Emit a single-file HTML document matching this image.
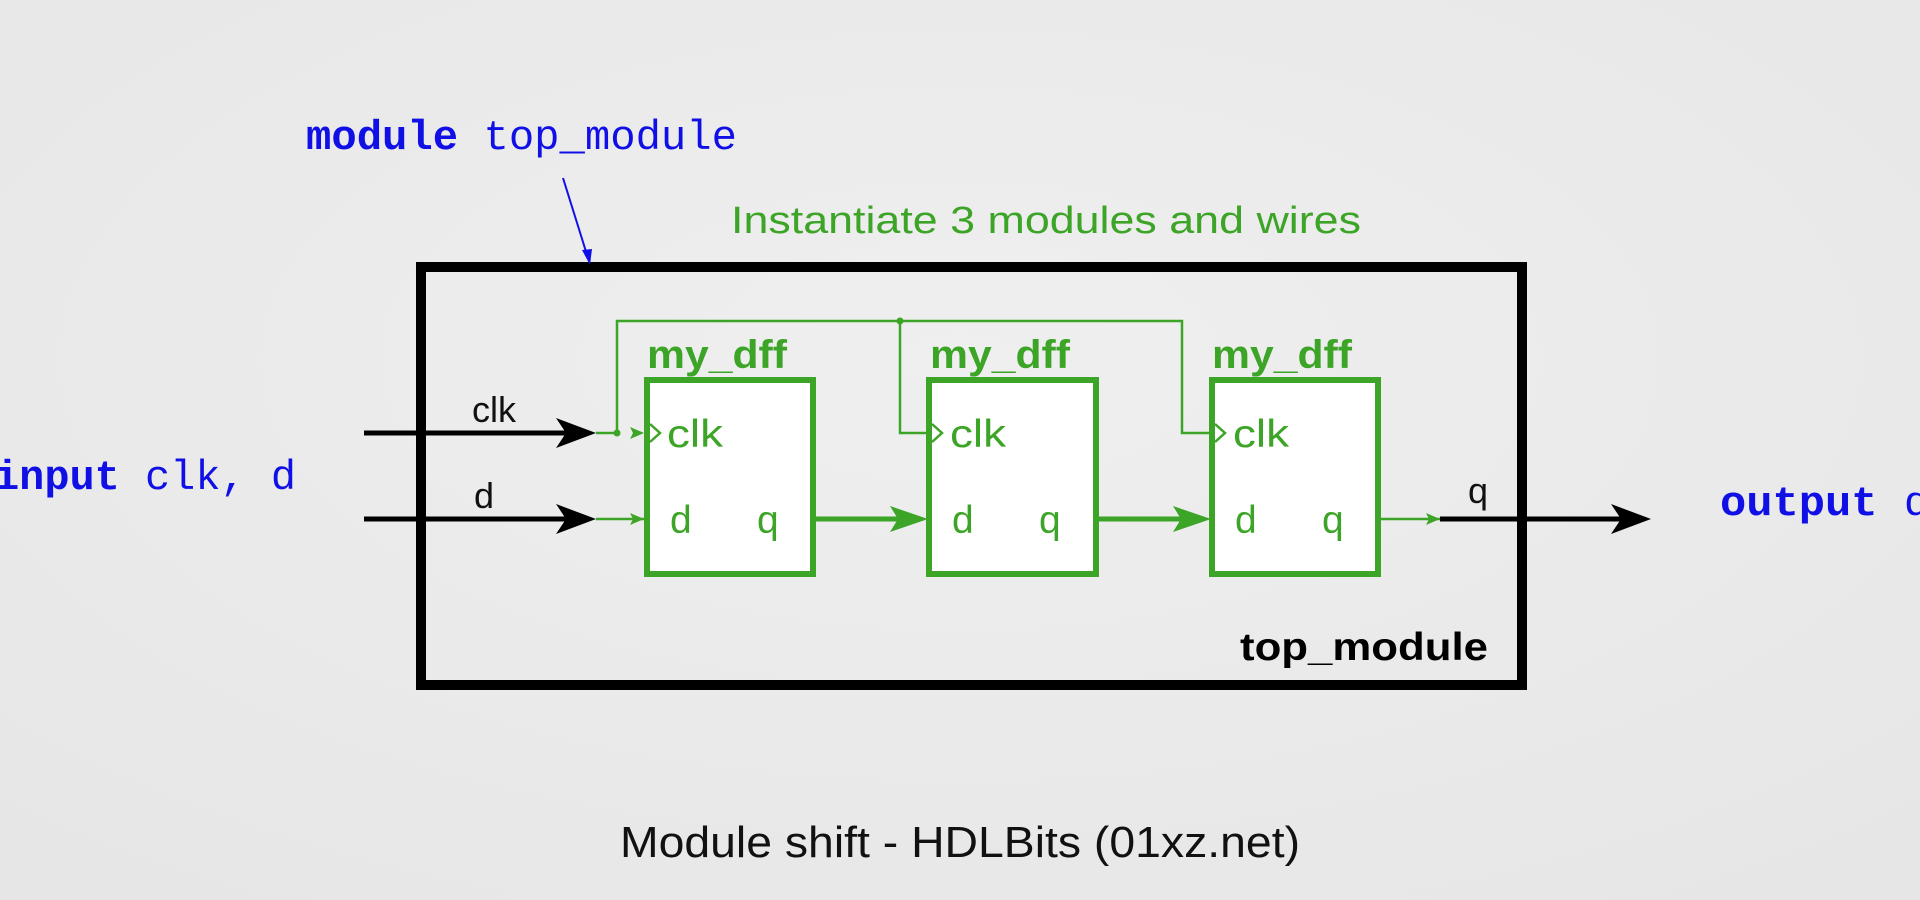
<!DOCTYPE html>
<html><head><meta charset="utf-8"><style>
html,body{margin:0;padding:0;width:1920px;height:900px;overflow:hidden;background:#ebebeb}
svg{display:block}
</style></head><body>
<svg width="1920" height="900" viewBox="0 0 1920 900" xmlns="http://www.w3.org/2000/svg">
<defs>
<radialGradient id="bg" cx="50%" cy="40%" r="75%">
<stop offset="0" stop-color="#efefef"/><stop offset="1" stop-color="#e6e6e6"/>
</radialGradient>
</defs>
<rect width="1920" height="900" fill="url(#bg)"/>
<rect x="421" y="267" width="1101" height="418" fill="none" stroke="#000" stroke-width="10"/>
<text x="306" y="149" font-family="Liberation Mono, monospace" font-size="42" fill="#1010e6" textLength="431" lengthAdjust="spacingAndGlyphs"><tspan font-weight="bold">module</tspan> top_module</text>
<line x1="563" y1="178" x2="588" y2="258" stroke="#1010e6" stroke-width="2"/>
<polygon points="590,265 582,250 592,249" fill="#1010e6"/>
<text x="731" y="233" font-family="Liberation Sans, sans-serif" font-size="38" fill="#3ca426" textLength="630" lengthAdjust="spacingAndGlyphs">Instantiate 3 modules and wires</text>
<g stroke="#3ca426" stroke-width="2.5" fill="none">
<polyline points="596,433 617,433 617,321 1182,321 1182,433 1210,433"/>
<polyline points="900,321 900,433 927,433"/>
<line x1="596" y1="519" x2="645" y2="519"/>
<line x1="1380" y1="519" x2="1440" y2="519"/>
</g>
<circle cx="900" cy="321" r="3.5" fill="#3ca426"/>
<circle cx="617" cy="433" r="3.5" fill="#3ca426"/>
<polygon points="644,433 630,427 633,433 630,439" fill="#3ca426"/>
<polygon points="644,519 630,513 633,519 630,525" fill="#3ca426"/>
<polygon points="1440,519 1426,513 1429,519 1426,525" fill="#3ca426"/>
<g fill="#fff" stroke="#3ca426" stroke-width="6">
<rect x="647" y="380" width="166" height="194"/>
<rect x="929" y="380" width="167" height="194"/>
<rect x="1212" y="380" width="166" height="194"/>
</g>
<g stroke="#3ca426" stroke-width="5">
<line x1="815" y1="519" x2="915" y2="519"/>
<line x1="1098" y1="519" x2="1198" y2="519"/>
</g>
<polygon points="928,519 890,506 898,519 890,532" fill="#3ca426"/>
<polygon points="1211,519 1173,506 1181,519 1173,532" fill="#3ca426"/>
<g font-family="Liberation Sans, sans-serif" fill="#3ca426">
<g font-size="40" font-weight="bold">
<text x="647" y="368" textLength="140" lengthAdjust="spacingAndGlyphs">my_dff</text>
<text x="930" y="368" textLength="140" lengthAdjust="spacingAndGlyphs">my_dff</text>
<text x="1212" y="368" textLength="140" lengthAdjust="spacingAndGlyphs">my_dff</text>
</g>
<g font-size="39">
<text x="667" y="447" textLength="56" lengthAdjust="spacingAndGlyphs">clk</text><text x="670" y="533">d</text><text x="757" y="533">q</text>
<text x="950" y="447" textLength="56" lengthAdjust="spacingAndGlyphs">clk</text><text x="952" y="533">d</text><text x="1039" y="533">q</text>
<text x="1233" y="447" textLength="56" lengthAdjust="spacingAndGlyphs">clk</text><text x="1235" y="533">d</text><text x="1322" y="533">q</text>
</g>
</g>
<g fill="none" stroke="#3ca426" stroke-width="2.5">
<polyline points="650,424 660,433 650,442"/>
<polyline points="932,424 942,433 932,442"/>
<polyline points="1215,424 1225,433 1215,442"/>
</g>
<g stroke="#000" stroke-width="5">
<line x1="364" y1="433" x2="580" y2="433"/>
<line x1="364" y1="519" x2="580" y2="519"/>
<line x1="1440" y1="519" x2="1635" y2="519"/>
</g>
<polygon points="596,433 556,418 566,433 556,448" fill="#000"/>
<polygon points="596,519 556,504 566,519 556,534" fill="#000"/>
<polygon points="1651,519 1611,504 1621,519 1611,534" fill="#000"/>
<g font-family="Liberation Sans, sans-serif" font-size="36" fill="#111">
<text x="472" y="422">clk</text>
<text x="474" y="508">d</text>
<text x="1468" y="503">q</text>
</g>
<text x="1240" y="660" font-family="Liberation Sans, sans-serif" font-size="39" font-weight="bold" fill="#000" textLength="248" lengthAdjust="spacingAndGlyphs">top_module</text>
<text x="-6" y="489" font-family="Liberation Mono, monospace" font-size="42" fill="#1010e6" textLength="302" lengthAdjust="spacingAndGlyphs"><tspan font-weight="bold">input</tspan> clk, d</text>
<text x="1720" y="515" font-family="Liberation Mono, monospace" font-size="42" fill="#1010e6" textLength="210" lengthAdjust="spacingAndGlyphs"><tspan font-weight="bold">output</tspan> q</text>
<text x="620" y="857" font-family="Liberation Sans, sans-serif" font-size="44" fill="#111" textLength="680" lengthAdjust="spacingAndGlyphs">Module shift - HDLBits (01xz.net)</text>
</svg>
</body></html>
